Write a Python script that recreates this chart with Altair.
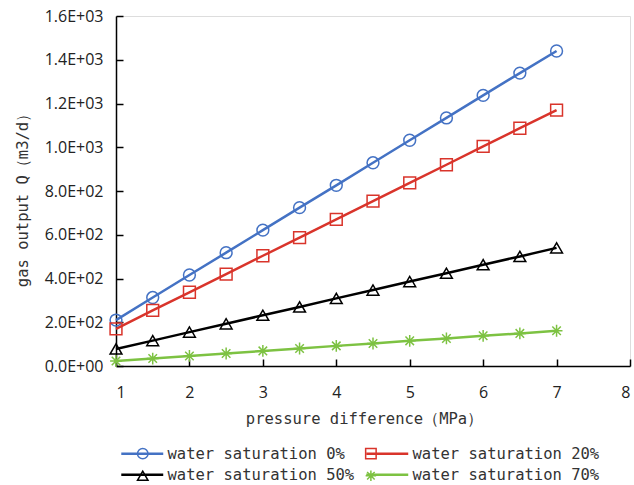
import math
import altair as alt
import pandas as pd

# ---- data ----
pressure = [1, 1.5, 2, 2.5, 3, 3.5, 4, 4.5, 5, 5.5, 6, 6.5, 7]
sw0 = [210, 313, 416, 518, 621, 724, 826, 929, 1032, 1134, 1237, 1339, 1440]
sw20 = [170, 254, 337, 420, 504, 587, 670, 754, 837, 920, 1004, 1087, 1170]
sw50 = [78, 116, 155, 193, 232, 270, 309, 347, 386, 424, 463, 501, 540]
sw70 = [23, 34, 46, 57, 69, 80, 92, 103, 115, 126, 138, 149, 161]
series_names = ["water saturation 0%", "water saturation 20%",
                "water saturation 50%", "water saturation 70%"]
x_ticks = [1, 2, 3, 4, 5, 6, 7, 8]
y_ticks = [0, 200, 400, 600, 800, 1000, 1200, 1400, 1600]

colors = ["#4472C4", "#D9342B", "#000000", "#7DC242"]
asterisk = "M-1,0L1,0M0,-1L0,1M-0.72,-0.72L0.72,0.72M-0.72,0.72L0.72,-0.72"
shapes = ["circle", "square", "triangle-up", asterisk]
legend_line = "M-4,0L4,0"

# legend fills column by column: order so rows read 0%,20% / 50%,70%
order_idx = [0, 2, 1, 3]
dom = [series_names[i] for i in order_idx]
col_rng = [colors[i] for i in order_idx]
shp_rng = [shapes[i] for i in order_idx]

rows = []
for name, vals in zip(series_names, [sw0, sw20, sw50, sw70]):
    for p, v in zip(pressure, vals):
        rows.append({"pressure": p, "Q": v, "series": name, "series2": name})
df = pd.DataFrame(rows)

W, H = 514, 350
MONO = "DejaVu Sans Mono"
TICKF = "Open Sans"
LEG_FS = 15.5

y_label_expr = ("datum.value == 0 ? '0.0E+00' : (datum.value < 1000 ? "
                "format(datum.value/100, '.1f') + 'E+02' : "
                "format(datum.value/1000, '.1f') + 'E+03')")

xscale = alt.Scale(domain=[1, 8], nice=False, zero=False)
yscale = alt.Scale(domain=[0, 1600], nice=False)

# legend geometry (two overlaid legends: line part with labels, marker part without)
sym_size = 110
sw_line, sw_mark = 2.5, 1.5
w1 = math.sqrt(sym_size) + sw_line
w2 = math.sqrt(sym_size) + sw_mark
center_x = 25          # symbol centre relative to plot left
label_x = 49           # label start relative to plot left
legend_top = 429.5
col_pad = 6
row_pad = 4.5
# widest first-column label, monospace advance 1233/2048 em
col1_label_w = max(len(series_names[0]), len(series_names[2])) * 1233 / 2048 * LEG_FS

lx1 = center_x - w1 / 2
lx2 = center_x - w2 / 2
lo1 = label_x - lx1 - w1
lo2 = label_x - lx2 - w2
cp1 = col_pad
cp2 = col_pad + col1_label_w + (w1 + lo1) - (w2 + lo2)

lines = alt.Chart(df).mark_line(strokeWidth=2.5).encode(
    x=alt.X("pressure:Q", scale=xscale,
            axis=alt.Axis(orient="bottom", values=x_ticks, ticks=False,
                          domainColor="#000", domainWidth=1.5, grid=False,
                          labelFont=TICKF, labelFontSize=16, labelColor="#222",
                          labelPadding=18, title="pressure difference（MPa）",
                          titleFont=MONO, titleFontSize=15.5, titleFontWeight="normal",
                          titleColor="#333", titleX=248, titleY=52,
                          titleBaseline="middle", titleAlign="center")),
    y=alt.Y("Q:Q", scale=yscale,
            axis=alt.Axis(orient="left", values=y_ticks, ticks=False,
                          domainColor="#000", domainWidth=1.5, grid=False,
                          labelExpr=y_label_expr,
                          labelFont=TICKF, labelFontSize=16, labelColor="#222",
                          labelPadding=13, title="gas output Q（m3/d）",
                          titleFont=MONO, titleFontSize=15.5, titleFontWeight="normal",
                          titleColor="#333", titleX=-94, titleY=180,
                          titleBaseline="middle", titleAlign="center", titleAngle=270)),
    stroke=alt.Stroke("series2:N",
                      scale=alt.Scale(domain=dom, range=col_rng),
                      legend=alt.Legend(orient="none", legendX=lx1, legendY=legend_top,
                                        columns=2, title=None, symbolType=legend_line,
                                        symbolSize=sym_size, symbolStrokeWidth=sw_line,
                                        labelFont=MONO, labelFontSize=LEG_FS,
                                        labelColor="#333", labelOffset=lo1, labelLimit=400,
                                        columnPadding=cp1, rowPadding=row_pad, padding=0)),
)

points = alt.Chart(df).mark_point(filled=False, size=140, strokeWidth=1.5, opacity=1).encode(
    x=alt.X("pressure:Q", scale=xscale, axis=None),
    y=alt.Y("Q:Q", scale=yscale, axis=None),
    color=alt.Color("series:N", scale=alt.Scale(domain=dom, range=col_rng),
                    legend=alt.Legend(orient="none", legendX=lx2, legendY=legend_top,
                                      columns=2, title=None,
                                      symbolSize=sym_size, symbolStrokeWidth=sw_mark,
                                      labelExpr="''", labelFont=MONO, labelFontSize=LEG_FS,
                                      labelOffset=lo2,
                                      columnPadding=cp2, rowPadding=row_pad, padding=0)),
    shape=alt.Shape("series:N", scale=alt.Scale(domain=dom, range=shp_rng)),
)

ticks = alt.Chart(df).mark_point(opacity=0).encode(
    x=alt.X("pressure:Q", scale=xscale,
            axis=alt.Axis(orient="top", offset=-H, values=x_ticks, labels=False,
                          domain=False, ticks=True, tickSize=7, tickWidth=1.5,
                          tickColor="#000", grid=False, title=None)),
    y=alt.Y("Q:Q", scale=yscale,
            axis=alt.Axis(orient="right", offset=-W, values=y_ticks, labels=False,
                          domain=False, ticks=True, tickSize=7, tickWidth=1.5,
                          tickColor="#000", grid=False, title=None)),
)

chart = alt.layer(lines, points, ticks).resolve_axis(
    x="independent", y="independent"
).resolve_legend(color="independent", shape="independent").properties(
    width=W, height=H,
    autosize=alt.AutoSizeParams(type="none"),
    padding={"left": 116, "top": 16, "right": 4, "bottom": 119},
).configure_view(stroke="#444", strokeWidth=2).configure(background="white")

chart.save("out.html", embed_options={"renderer": "svg", "actions": False})
